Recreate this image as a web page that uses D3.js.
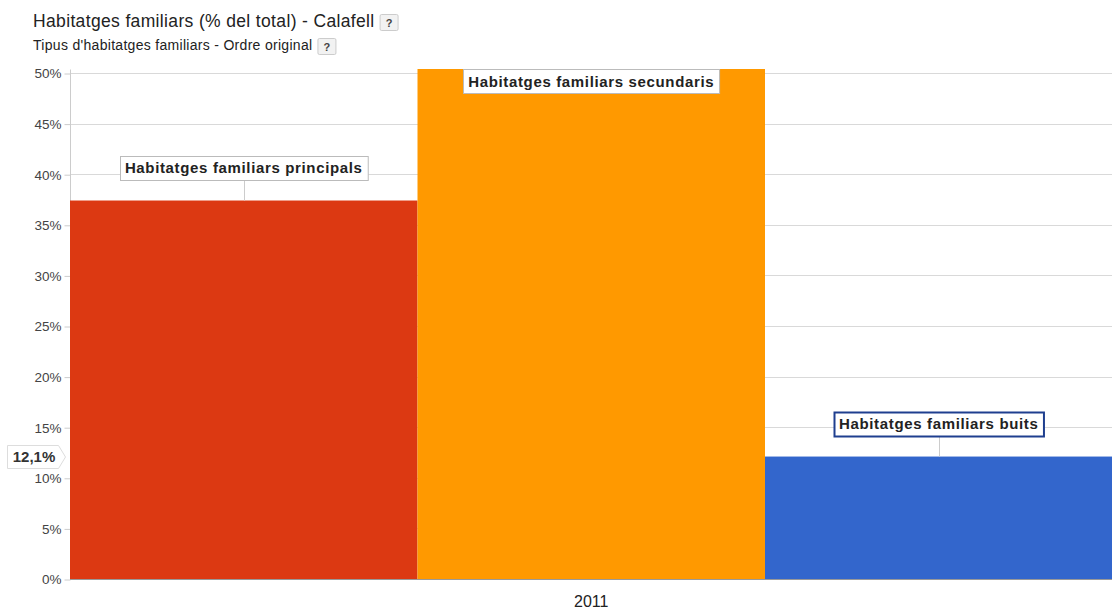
<!DOCTYPE html>
<html><head><meta charset="utf-8">
<script src="https://cdn.jsdelivr.net/npm/d3@7"></script>
<style>
body{margin:0;background:#fff;font-family:"Liberation Sans",Arial,sans-serif;}
</style></head><body>
<svg id="c" width="1112" height="610"></svg>
<script>
const categories = ["Habitatges familiars principals","Habitatges familiars secundaris","Habitatges familiars buits"];
const values = [37.4, 50.4, 12.1];
const colors = ["#dc3912","#ff9900","#3366cc"];
const yTicks = [0,5,10,15,20,25,30,35,40,45,50];
const xLabel = "2011";
const title = "Habitatges familiars (% del total) - Calafell";
const subtitle = "Tipus d'habitatges familiars - Ordre original";
const highlightLabel = "12,1%";
const highlightIndex = 2;

const svg = d3.select("#c");
const L = 70, R = 1112.5, T = 69, B = 579;
const y = d3.scaleLinear().domain([0,50]).range([B, 73]);
const x = d3.scaleBand().domain(categories).range([L, R]).padding(0);

// title
const tt = svg.append("text").attr("x",33).attr("y",27).attr("font-size",17.5).attr("letter-spacing",0.35)
  .attr("fill","#222").text(title);
const tW = tt.node().getComputedTextLength();
function qbox(xx, yy){
  svg.append("rect").attr("x",xx+0.5).attr("y",yy+0.5).attr("width",18).attr("height",16).attr("rx",1.5)
    .attr("fill","#f2f2f2").attr("stroke","#ccc");
  svg.append("text").attr("x",xx+9.5).attr("y",yy+13).attr("text-anchor","middle").attr("font-size",11)
    .attr("font-weight","bold").attr("fill","#444").text("?");
}
qbox(33+tW+5, 14);
const st = svg.append("text").attr("x",33).attr("y",50).attr("font-size",14).attr("letter-spacing",0.3)
  .attr("fill","#222").text(subtitle);
qbox(33+st.node().getComputedTextLength()+5, 38);

// gridlines
svg.append("g").selectAll("line").data(yTicks.filter(d=>d>0)).join("line")
  .attr("x1",L).attr("x2",1112).attr("y1",d=>Math.round(y(d))+0.5).attr("y2",d=>Math.round(y(d))+0.5)
  .attr("stroke","#d9d9d9");

// y axis
const yAxis = d3.axisLeft(y).tickValues(yTicks).tickFormat(d=>d+"%").tickSize(6).tickPadding(3);
const ga = svg.append("g").attr("transform",`translate(${L+0.5},0.5)`).call(yAxis);
ga.select(".domain").attr("stroke","#ccc").attr("d",`M0,${T}V${B}`);
ga.selectAll(".tick line").attr("stroke","#ccc");
ga.selectAll(".tick text").attr("font-family","Liberation Sans, Arial").attr("font-size",13.5).attr("fill","#444");

// bars
svg.append("g").selectAll("rect").data(categories).join("rect")
  .attr("x",d=>x(d)).attr("width",x.bandwidth())
  .attr("y",(d,i)=>Math.max(T,y(values[i]))).attr("height",(d,i)=>B-Math.max(T,y(values[i])))
  .attr("fill",(d,i)=>colors[i]);

// baseline
svg.append("line").attr("x1",L).attr("x2",1112).attr("y1",B+0.5).attr("y2",B+0.5).attr("stroke","#999");

// x label
svg.append("text").attr("x",x(categories[1])+x.bandwidth()/2).attr("y",607).attr("text-anchor","middle")
  .attr("font-size",16).attr("fill","#222").text(xLabel);

// bar labels
categories.forEach((c,i)=>{
  const cx = x(c)+x.bandwidth()/2;
  const top = y(values[i]);
  const g = svg.append("g");
  const t = g.append("text").attr("font-size",15).attr("letter-spacing",0.65).attr("font-weight","bold").attr("fill","#222")
    .attr("text-anchor","middle").text(c);
  const w = t.node().getComputedTextLength()+10;
  const h = 24;
  let by = top - 45;
  const inside = by < T;
  if (inside) by = T;
  else {
    g.insert("line","text").attr("x1",Math.round(cx)+0.5).attr("x2",Math.round(cx)+0.5)
      .attr("y1",by+h).attr("y2",top).attr("stroke","#ccc");
  }
  const sel = i===highlightIndex;
  g.insert("rect","text").attr("x",Math.round(cx-w/2)+0.5).attr("y",Math.round(by)+0.5).attr("width",w).attr("height",h)
    .attr("fill","#fff").attr("stroke",sel?"#1f3f8f":"#bbb").attr("stroke-width",sel?2:1);
  t.attr("x",cx).attr("y",by+17.5);
});

// highlight value callout on axis
const hy = Math.round(y(values[highlightIndex]));
const cg = svg.append("g");
cg.append("path").attr("d",`M7.5,${hy-11.5}H58.5L65.5,${hy}L58.5,${hy+11.5}H7.5Z`)
  .attr("fill","#fff").attr("stroke","#ddd");
cg.append("text").attr("x",34).attr("y",hy+5).attr("text-anchor","middle").attr("font-size",15)
  .attr("font-weight","bold").attr("fill","#333").text(highlightLabel);
</script>
</body></html>
